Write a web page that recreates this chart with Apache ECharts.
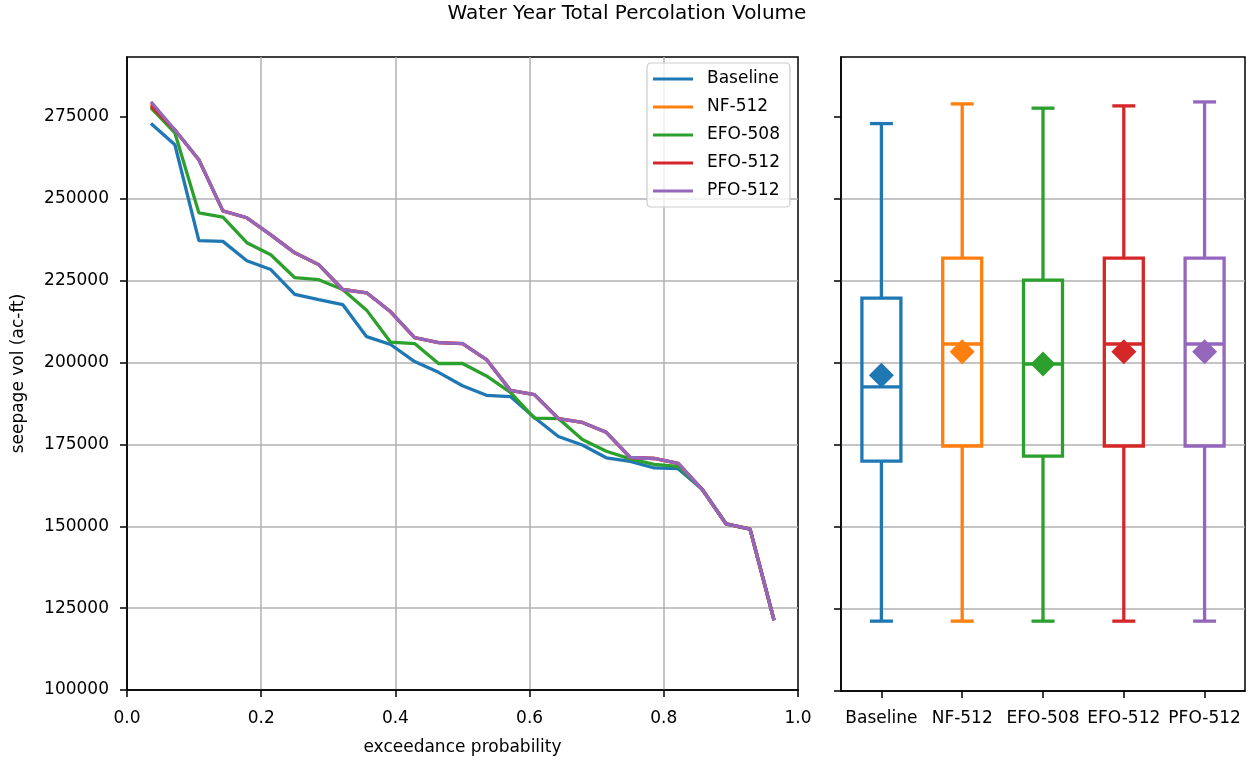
<!DOCTYPE html>
<html>
<head>
  <meta charset="UTF-8">
  <title>Water Year Total Percolation Volume</title>
  <script src="https://cdn.jsdelivr.net/npm/echarts@6.0.0/dist/echarts.min.js"></script>
  <style>
    body { margin: 0; background: #fff; }
    #chart { width: 1254px; height: 761px; }
  </style>
</head>
<body>
<div id="chart"></div>
<script>
// exceedance probability of each ranked water year
var exceedance = [0.0357, 0.0714, 0.1071, 0.1429, 0.1786, 0.2143, 0.2500, 0.2857, 0.3214,
  0.3571, 0.3929, 0.4286, 0.4643, 0.5000, 0.5357, 0.5714, 0.6071, 0.6429,
  0.6786, 0.7143, 0.7500, 0.7857, 0.8214, 0.8571, 0.8929, 0.9286, 0.9643];

// seepage volumes (ac-ft), sorted high to low
var baseline = [273000, 266500, 237200, 237000, 231100, 228400, 220800, 219200, 217700,
  207900, 205500, 200300, 197000, 192900, 190000, 189600, 183200, 177400,
  174800, 170900, 169800, 167800, 167600, 161300, 150700, 149100, 121300];
var nf512 = [279000, 271000, 261900, 246300, 244200, 239000, 233500, 229900, 222300,
  221300, 215500, 207600, 206100, 205800, 200900, 191500, 190200, 182900,
  181700, 178700, 171000, 170700, 169200, 161300, 150700, 149100, 121300];
var efo508 = [277800, 270100, 245700, 244400, 236600, 232900, 225900, 225300, 222300,
  216000, 206200, 205800, 199700, 199700, 195900, 190900, 183000, 182900,
  176500, 172900, 170600, 168900, 168300, 161300, 150700, 149100, 121300];
var efo512 = [278400, 271000, 261900, 246300, 244200, 239000, 233500, 229900, 222300,
  221300, 215500, 207600, 206100, 205800, 200900, 191500, 190200, 182900,
  181700, 178700, 171000, 170700, 169200, 161300, 150700, 149100, 121300];
var pfo512 = [279600, 271000, 261900, 246300, 244200, 239000, 233500, 229900, 222300,
  221300, 215500, 207600, 206100, 205800, 200900, 191500, 190200, 182900,
  181700, 178700, 171000, 170700, 169200, 161300, 150700, 149100, 121300];

var scenarios = ['Baseline', 'NF-512', 'EFO-508', 'EFO-512', 'PFO-512'];
var colors = ['#1f77b4', '#ff7f0e', '#2ca02c', '#d62728', '#9467bd'];

// box plot statistics
var boxMin = [121300, 121300, 121300, 121300, 121300];
var boxQ1 = [170100, 174700, 171600, 174700, 174700];
var boxMedian = [192700, 205800, 199700, 205800, 205800];
var boxQ3 = [219800, 232000, 225300, 232000, 232000];
var boxMax = [273000, 279000, 277700, 278400, 279600];
var boxMean = [196300, 203400, 199700, 203400, 203400];

var yTicks = [100000, 125000, 150000, 175000, 200000, 225000, 250000, 275000];

var font = 'DejaVu Sans';
var chart = echarts.init(document.getElementById('chart'));

function pairs(ys) {
  return ys.map(function (y, i) { return [exceedance[i], y]; });
}

var lineData = [baseline, nf512, efo508, efo512, pfo512];
var lineSeries = lineData.map(function (ys, k) {
  return {
    name: scenarios[k],
    type: 'line',
    xAxisIndex: 0,
    yAxisIndex: 0,
    data: pairs(ys),
    showSymbol: false,
    symbol: 'none',
    lineStyle: { color: colors[k], width: 3.3 },
    itemStyle: { color: colors[k] },
    z: 3 + k
  };
});

var boxRows = scenarios.map(function (s, i) {
  return [i, boxMin[i], boxQ1[i], boxMedian[i], boxQ3[i], boxMax[i]];
});

function renderBox(params, api) {
  var x = api.value(0);
  var pMin = api.coord([x, api.value(1)]);
  var pQ1 = api.coord([x, api.value(2)]);
  var pMed = api.coord([x, api.value(3)]);
  var pQ3 = api.coord([x, api.value(4)]);
  var pMax = api.coord([x, api.value(5)]);
  var cx = pMin[0];
  var half = 19.5, cap = 11.5;
  var st = { stroke: colors[params.dataIndex], lineWidth: 3.3, fill: null };
  return {
    type: 'group',
    children: [
      { type: 'rect', shape: { x: cx - half, y: pQ3[1], width: half * 2, height: pQ1[1] - pQ3[1] }, style: st },
      { type: 'line', shape: { x1: cx - half, y1: pMed[1], x2: cx + half, y2: pMed[1] }, style: st },
      { type: 'line', shape: { x1: cx, y1: pQ1[1], x2: cx, y2: pMin[1] }, style: st },
      { type: 'line', shape: { x1: cx, y1: pQ3[1], x2: cx, y2: pMax[1] }, style: st },
      { type: 'line', shape: { x1: cx - cap, y1: pMin[1], x2: cx + cap, y2: pMin[1] }, style: st },
      { type: 'line', shape: { x1: cx - cap, y1: pMax[1], x2: cx + cap, y2: pMax[1] }, style: st }
    ]
  };
}

var tickStyle = { show: true, inside: false, length: 7, lineStyle: { color: '#000', width: 1.5 } };
var axisLineStyle = { show: true, lineStyle: { color: '#000', width: 1.5 } };
var gridLine = { color: '#b0b0b0', width: 1.5 };
var labelStyle = { color: '#000', fontFamily: font, fontSize: 17 };

var option = {
  animation: false,
  backgroundColor: '#fff',
  title: {
    text: 'Water Year Total Percolation Volume',
    left: 'center',
    top: 4,
    padding: 0,
    textStyle: { color: '#000', fontFamily: font, fontSize: 20, fontWeight: 'normal' }
  },
  legend: {
    data: scenarios,
    orient: 'vertical',
    left: 647,
    top: 63,
    padding: [7, 10, 7, 6],
    itemWidth: 40,
    itemHeight: 3,
    itemGap: 10,
    icon: 'rect',
    backgroundColor: 'rgba(255,255,255,0.8)',
    borderColor: '#cccccc',
    borderWidth: 1.2,
    borderRadius: 4,
    textStyle: { color: '#000', fontFamily: font, fontSize: 17, lineHeight: 18, padding: [0, 0, 0, 9] }
  },
  grid: [
    { left: 127, top: 57, width: 671, height: 634, show: true, borderColor: '#000', borderWidth: 1.5 },
    { left: 841, top: 57, width: 404, height: 634, show: true, borderColor: '#000', borderWidth: 1.5 }
  ],
  xAxis: [
    {
      type: 'value', gridIndex: 0, min: 0, max: 1, interval: 0.2,
      name: 'exceedance probability', nameLocation: 'middle', nameGap: 49,
      nameTextStyle: labelStyle,
      axisLine: axisLineStyle,
      axisTick: tickStyle,
      axisLabel: Object.assign({ margin: 20, formatter: function (v) { return v.toFixed(1); } }, labelStyle),
      splitLine: { show: true, showMinLine: false, showMaxLine: false, lineStyle: gridLine }
    },
    {
      type: 'category', gridIndex: 1, data: scenarios, boundaryGap: true,
      axisLine: axisLineStyle,
      axisTick: Object.assign({ alignWithLabel: true }, tickStyle),
      axisLabel: Object.assign({ margin: 19, interval: 0 }, labelStyle),
      splitLine: { show: false }
    }
  ],
  yAxis: [
    {
      type: 'value', gridIndex: 0, min: 100000, max: 293300, interval: 25000,
      name: 'seepage vol (ac-ft)', nameLocation: 'middle', nameGap: 100, nameRotate: 90,
      nameTextStyle: labelStyle,
      axisLine: axisLineStyle,
      axisTick: Object.assign({ customValues: yTicks }, tickStyle),
      axisLabel: Object.assign({ margin: 18, customValues: yTicks, formatter: function (v) { return String(v); } }, labelStyle),
      splitLine: { show: true, showMinLine: false, showMaxLine: false, lineStyle: gridLine }
    },
    {
      type: 'value', gridIndex: 1, min: 100000, max: 293300, interval: 25000,
      axisLine: axisLineStyle,
      axisTick: Object.assign({ customValues: yTicks }, tickStyle),
      axisLabel: { show: false },
      splitLine: { show: true, showMinLine: false, showMaxLine: false, lineStyle: gridLine }
    }
  ],
  series: lineSeries.concat([
    {
      type: 'custom',
      xAxisIndex: 1,
      yAxisIndex: 1,
      data: boxRows,
      encode: { x: 0, y: [1, 2, 3, 4, 5] },
      renderItem: renderBox,
      z: 3
    },
    {
      type: 'scatter',
      xAxisIndex: 1,
      yAxisIndex: 1,
      symbol: 'diamond',
      symbolSize: [25, 25],
      data: boxMean.map(function (m, i) {
        return { value: [i, m], itemStyle: { color: colors[i], opacity: 1 } };
      }),
      z: 4
    }
  ])
};

chart.setOption(option);
</script>
</body>
</html>
